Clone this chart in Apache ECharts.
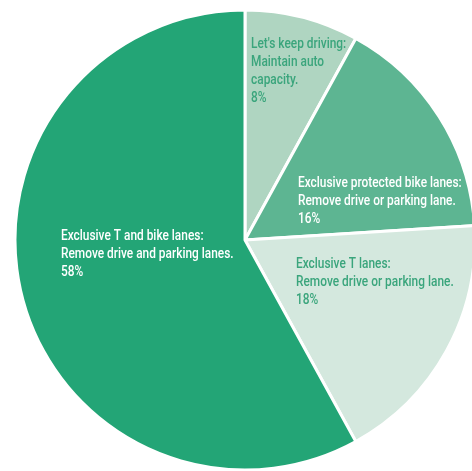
<!DOCTYPE html>
<html><head><meta charset="utf-8">
<script src="https://cdn.jsdelivr.net/npm/echarts@6/dist/echarts.min.js"></script>
<style>html,body{margin:0;padding:0;background:#fff}#c{width:472px;height:471px}</style>
</head><body><div id="c"></div>
<script>
const categories = [
  "Let's keep driving:\nMaintain auto\ncapacity.",
  "Exclusive protected bike lanes:\nRemove drive or parking lane.",
  "Exclusive T lanes:\nRemove drive or parking lane.",
  "Exclusive T and bike lanes:\nRemove drive and parking lanes."
];
const values = [8, 16, 18, 58];
const sliceColors = ['#afd5c1', '#5db592', '#d4e8de', '#23a576'];
const labelColors = ['#3aa57c', '#ffffff', '#3aa57c', '#ffffff'];
const labelPos = [[251, 35], [298, 174], [296, 255], [61, 227]];

const chart = echarts.init(document.getElementById('c'), null, {renderer: 'canvas'});
chart.setOption({
  animation: false,
  graphic: categories.map((c, i) => ({
    type: 'text',
    x: labelPos[i][0],
    y: labelPos[i][1],
    scaleX: 0.85,
    z: 100,
    style: {
      text: c + '\n' + values[i] + '%',
      fill: labelColors[i],
      fontFamily: 'Roboto, sans-serif',
      fontWeight: 500,
      fontSize: 14,
      lineHeight: 18,
      align: 'left',
      verticalAlign: 'top'
    }
  })),
  series: [{
    type: 'pie',
    center: [245, 240],
    radius: 230,
    startAngle: 90,
    clockwise: true,
    itemStyle: {borderColor: '#ffffff', borderWidth: 3},
    label: {show: false},
    labelLine: {show: false},
    data: categories.map((c, i) => ({
      name: c, value: values[i],
      itemStyle: {color: sliceColors[i]}
    }))
  }]
});
</script></body></html>
